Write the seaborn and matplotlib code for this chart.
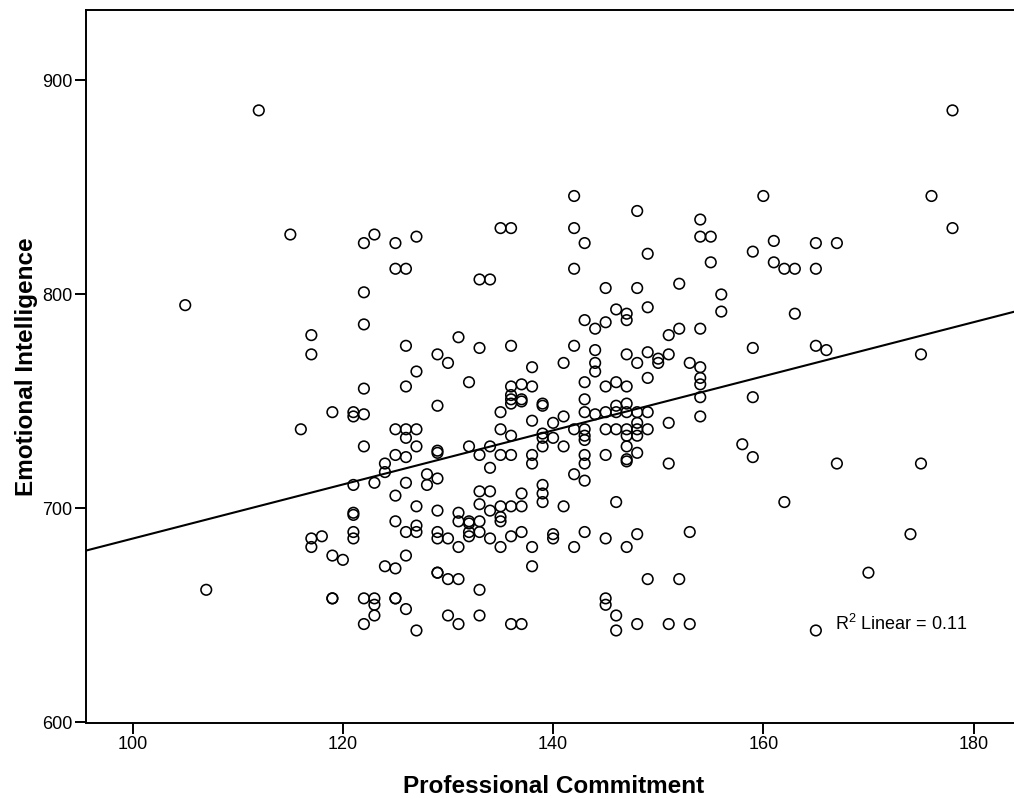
import numpy as np
import pandas as pd
import matplotlib
matplotlib.use("Agg")
import matplotlib.pyplot as plt
import seaborn as sns

# Professional Commitment (x) -> list of Emotional Intelligence values (y)
pc_105 = [795]
pc_107 = [662]
pc_112 = [886]
pc_115 = [828]
pc_116 = [737]
pc_117 = [781, 772, 686, 682]
pc_118 = [687]
pc_119 = [745, 678, 658, 658]
pc_120 = [676]
pc_121 = [745, 743, 711, 698, 697, 689, 686]
pc_122 = [824, 801, 786, 756, 744, 729, 658, 646]
pc_123 = [828, 712, 658, 655, 650]
pc_124 = [721, 717, 673]
pc_125 = [824, 812, 737, 725, 706, 694, 672, 658, 658]
pc_126 = [812, 776, 757, 737, 733, 724, 712, 689, 678, 653]
pc_127 = [827, 764, 737, 729, 701, 692, 689, 643]
pc_128 = [716, 711]
pc_129 = [772, 748, 727, 726, 714, 699, 689, 686, 670, 670]
pc_130 = [768, 686, 667, 650]
pc_131 = [780, 698, 694, 682, 667, 646]
pc_132 = [759, 729, 694, 693, 689, 687]
pc_133 = [807, 775, 725, 708, 702, 694, 689, 662, 650]
pc_134 = [807, 729, 719, 708, 699, 686]
pc_135 = [831, 745, 737, 725, 701, 696, 694, 682]
pc_136 = [831, 776, 757, 753, 751, 749, 734, 725, 701, 687, 646]
pc_137 = [758, 751, 750, 707, 701, 689, 646]
pc_138 = [766, 757, 741, 725, 721, 682, 673]
pc_139 = [749, 748, 735, 733, 729, 711, 707, 703]
pc_140 = [740, 733, 688, 686]
pc_141 = [768, 743, 729, 701]
pc_142 = [846, 831, 812, 776, 737, 716, 682]
pc_143 = [824, 788, 759, 751, 745, 737, 734, 732, 725, 721, 713, 689]
pc_144 = [784, 774, 768, 764, 744]
pc_145 = [803, 787, 757, 745, 737, 725, 686, 658, 655]
pc_146 = [793, 759, 748, 745, 737, 703, 650, 643]
pc_147 = [791, 788, 772, 757, 749, 745, 737, 734, 729, 723, 722, 682]
pc_148 = [839, 803, 768, 745, 740, 737, 734, 726, 688, 646]
pc_149 = [819, 794, 773, 761, 745, 737, 667]
pc_150 = [770, 768]
pc_151 = [781, 772, 740, 721, 646]
pc_152 = [805, 784, 667]
pc_153 = [768, 689, 646]
pc_154 = [835, 827, 784, 766, 761, 758, 752, 743]
pc_155 = [827, 815]
pc_156 = [800, 792]
pc_158 = [730]
pc_159 = [820, 775, 752, 724]
pc_160 = [846]
pc_161 = [825, 815]
pc_162 = [812, 703]
pc_163 = [812, 791]
pc_165 = [824, 812, 776, 643]
pc_166 = [774]
pc_167 = [824, 721]
pc_170 = [670]
pc_174 = [688]
pc_175 = [772, 721]
pc_176 = [846]
pc_178 = [886, 831]

columns = {105: pc_105, 107: pc_107, 112: pc_112, 115: pc_115, 116: pc_116,
           117: pc_117, 118: pc_118, 119: pc_119, 120: pc_120, 121: pc_121,
           122: pc_122, 123: pc_123, 124: pc_124, 125: pc_125, 126: pc_126,
           127: pc_127, 128: pc_128, 129: pc_129, 130: pc_130, 131: pc_131,
           132: pc_132, 133: pc_133, 134: pc_134, 135: pc_135, 136: pc_136,
           137: pc_137, 138: pc_138, 139: pc_139, 140: pc_140, 141: pc_141,
           142: pc_142, 143: pc_143, 144: pc_144, 145: pc_145, 146: pc_146,
           147: pc_147, 148: pc_148, 149: pc_149, 150: pc_150, 151: pc_151,
           152: pc_152, 153: pc_153, 154: pc_154, 155: pc_155, 156: pc_156,
           158: pc_158, 159: pc_159, 160: pc_160, 161: pc_161, 162: pc_162,
           163: pc_163, 165: pc_165, 166: pc_166, 167: pc_167, 170: pc_170,
           174: pc_174, 175: pc_175, 176: pc_176, 178: pc_178}

x_ticks = [100, 120, 140, 160, 180]
y_ticks = [600, 700, 800, 900]
r2_label = "R$^2$ Linear = 0.11"

rows = [(x, y) for x, ys in columns.items() for y in ys]
df = pd.DataFrame(rows, columns=["Professional Commitment", "Emotional Intelligence"])

sns.set_theme(style="white")
plt.rcParams["font.family"] = ["Liberation Sans", "DejaVu Sans"]
plt.rcParams["mathtext.fontset"] = "custom"
plt.rcParams["mathtext.rm"] = "Liberation Sans"

fig = plt.figure(figsize=(10.14, 7.99), dpi=100)
W, H = 1014, 799
ax = fig.add_axes([86 / W, (H - 722.5) / H, (W - 86) / W, (722.5 - 10) / H])
ax.set_xlim(95.56, 183.85)
ax.set_ylim(600, 932.9)

sns.scatterplot(data=df, x="Professional Commitment", y="Emotional Intelligence",
                ax=ax, marker="o", s=58, facecolor="none", edgecolor="black",
                linewidth=1.15)
sns.regplot(data=df, x="Professional Commitment", y="Emotional Intelligence",
            ax=ax, scatter=False, ci=None, truncate=False,
            line_kws=dict(color="black", linewidth=1.5))
ax.set_xlim(95.56, 183.85)
ax.set_ylim(600, 932.9)

ax.set_xticks(x_ticks)
ax.set_yticks(y_ticks)
ax.tick_params(axis="both", which="major", direction="out", length=8, width=1.4,
               color="black", labelsize=13, labelcolor="black", pad=2,
               bottom=True, left=True)
for side in ["left", "bottom", "top"]:
    ax.spines[side].set_visible(True)
    ax.spines[side].set_color("black")
    ax.spines[side].set_linewidth(1.4)
ax.spines["right"].set_visible(False)

ax.set_xlabel("Professional Commitment", fontsize=17.5, fontweight="bold", color="black")
ax.set_ylabel("Emotional Intelligence", fontsize=17.5, fontweight="bold", color="black")
ax.xaxis.set_label_coords(0.504, -0.074)
ax.yaxis.set_label_coords(-0.052, 0.499)

ax.text(166.8, 646, r2_label, fontsize=13, color="black", ha="left", va="center")

fig.savefig("out.png", dpi=100)
